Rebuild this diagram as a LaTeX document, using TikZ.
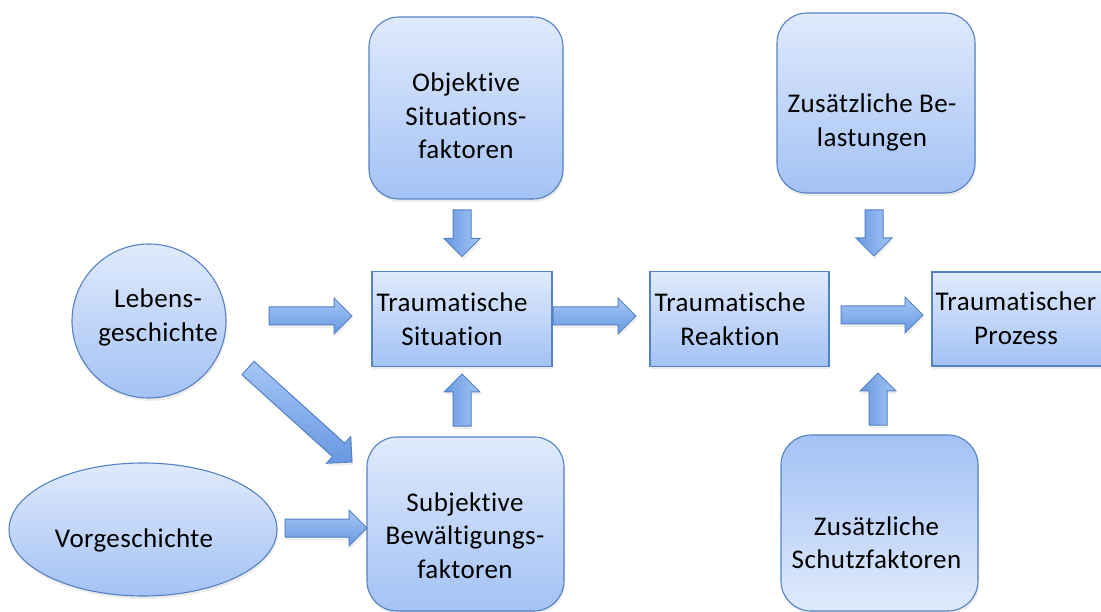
\documentclass[tikz,border=0pt]{standalone}
\usepackage{fontspec}
\setmainfont{Carlito}[Ligatures=NoCommon, LetterSpace=1.5]
\usetikzlibrary{calc,shadows,shapes.geometric}
\definecolor{bordc}{RGB}{84,130,194}
\definecolor{topc}{RGB}{224,234,252}
\definecolor{botc}{RGB}{163,194,245}
\definecolor{arlight}{RGB}{165,198,246}
\definecolor{ardark}{RGB}{104,152,226}
\newcommand\mylines[1]{\begin{tabular}[t]{@{}c@{}}#1\end{tabular}}
\newcommand\fatarrow[3][hshade]{%
 \draw[blockarrow,#1] ($(#2)!9pt!90:(#3)$) -- ($(#3)!18pt!(#2)!9pt!90:(#3)$)
   -- ($(#3)!18pt!(#2)!18pt!90:(#3)$) -- (#3)
   -- ($(#3)!18pt!(#2)!18pt!-90:(#3)$) -- ($(#3)!18pt!(#2)!9pt!-90:(#3)$)
   -- ($(#2)!9pt!-90:(#3)$) -- cycle;}
\tikzset{
 shapebase/.style={draw=bordc, line width=1.1pt, top color=topc, bottom color=botc,
   drop shadow={shadow xshift=1pt, shadow yshift=-3pt, opacity=0.15}, inner sep=0pt},
 rbox/.style={shapebase, rectangle, rounded corners=30pt},
 sbox/.style={shapebase, rectangle},
 txt/.style={font=\fontsize{27}{33.5}\selectfont, anchor=base, inner sep=0pt, text=black},
 blockarrow/.style={draw=bordc, line width=1pt,
   drop shadow={shadow xshift=1pt, shadow yshift=-3pt, opacity=0.12}},
 hshade/.style={top color=arlight, bottom color=ardark},
 vshade/.style={left color=ardark, right color=arlight},
 dshade/.style={top color=arlight, bottom color=ardark},
}
\begin{document}
\begin{tikzpicture}[x=1pt,y=-1pt]
\useasboundingbox (0,0) rectangle (1101,612);
\clip (0,0) rectangle (1101,612);
\fill[white] (0,0) rectangle (1101,612);
% shapes
\node[rbox, minimum width=194pt, minimum height=182pt] (obj) at (466,108) {};
\node[rbox, minimum width=198pt, minimum height=180pt] (zus) at (876,103) {};
\node[sbox, minimum width=180pt, minimum height=95pt] (ts) at (462,319) {};
\node[sbox, minimum width=179pt, minimum height=95pt] (tr) at (739.5,319) {};
\node[sbox, minimum width=178pt, minimum height=94pt] (tp) at (1021,319) {};
\node[shapebase, circle, minimum size=154pt] (leb) at (149,321) {};
\node[shapebase, ellipse, minimum width=268pt, minimum height=133pt] (vor) at (143,529.5) {};
\node[rbox, minimum width=197pt, minimum height=174pt] (subj) at (465.5,524) {};
\node[rbox, minimum width=197pt, minimum height=176pt, top color=botc, bottom color=topc] (schutz) at (879.5,523) {};
% texts
\node[txt] (objt) at (466,92) {\mylines{Objektive\\Situations-\\faktoren}};
\node[txt] (zust) at (872,113) {\mylines{Zusätzliche Be-\\lastungen}};
\node[txt] (tst) at (452,312) {\mylines{Traumatische\\Situation}};
\node[txt] (trt) at (730,312) {\mylines{Traumatische\\Reaktion}};
\node[txt] (tpt) at (1016,311) {\mylines{Traumatischer\\Prozess}};
\node[txt] (lebt) at (158,308) {\mylines{Lebens-\\geschichte}};
\node[txt] (vort) at (134,547) {Vorgeschichte};
\node[txt] (subjt) at (465,511) {\mylines{Subjektive\\Bewältigungs-\\faktoren}};
\node[txt] (schutzt) at (876.5,535) {\mylines{Zusätzliche\\Schutzfaktoren}};
% arrow end points
\coordinate (a1s) at (462,210);   \coordinate (a1e) at (462,256.5);
\coordinate (a2s) at (269,316);   \coordinate (a2e) at (352,316);
\coordinate (a3s) at (553,316);   \coordinate (a3e) at (636,316);
\coordinate (a4s) at (841,315);   \coordinate (a4e) at (923,315);
\coordinate (a5s) at (874,210);   \coordinate (a5e) at (874,256);
\coordinate (a6s) at (878,425);   \coordinate (a6e) at (878,373);
\coordinate (a7s) at (462,426);   \coordinate (a7e) at (462,374);
\coordinate (a8s) at (248,368);   \coordinate (a8e) at (352,462);
\coordinate (a9s) at (285,528);   \coordinate (a9e) at (367,528);
\fatarrow[vshade]{a1s}{a1e}
\fatarrow{a2s}{a2e}
\fatarrow{a3s}{a3e}
\fatarrow{a4s}{a4e}
\fatarrow[vshade]{a5s}{a5e}
\fatarrow[vshade]{a6s}{a6e}
\fatarrow[vshade]{a7s}{a7e}
\fatarrow[dshade]{a8s}{a8e}
\fatarrow{a9s}{a9e}
\end{tikzpicture}
\end{document}
